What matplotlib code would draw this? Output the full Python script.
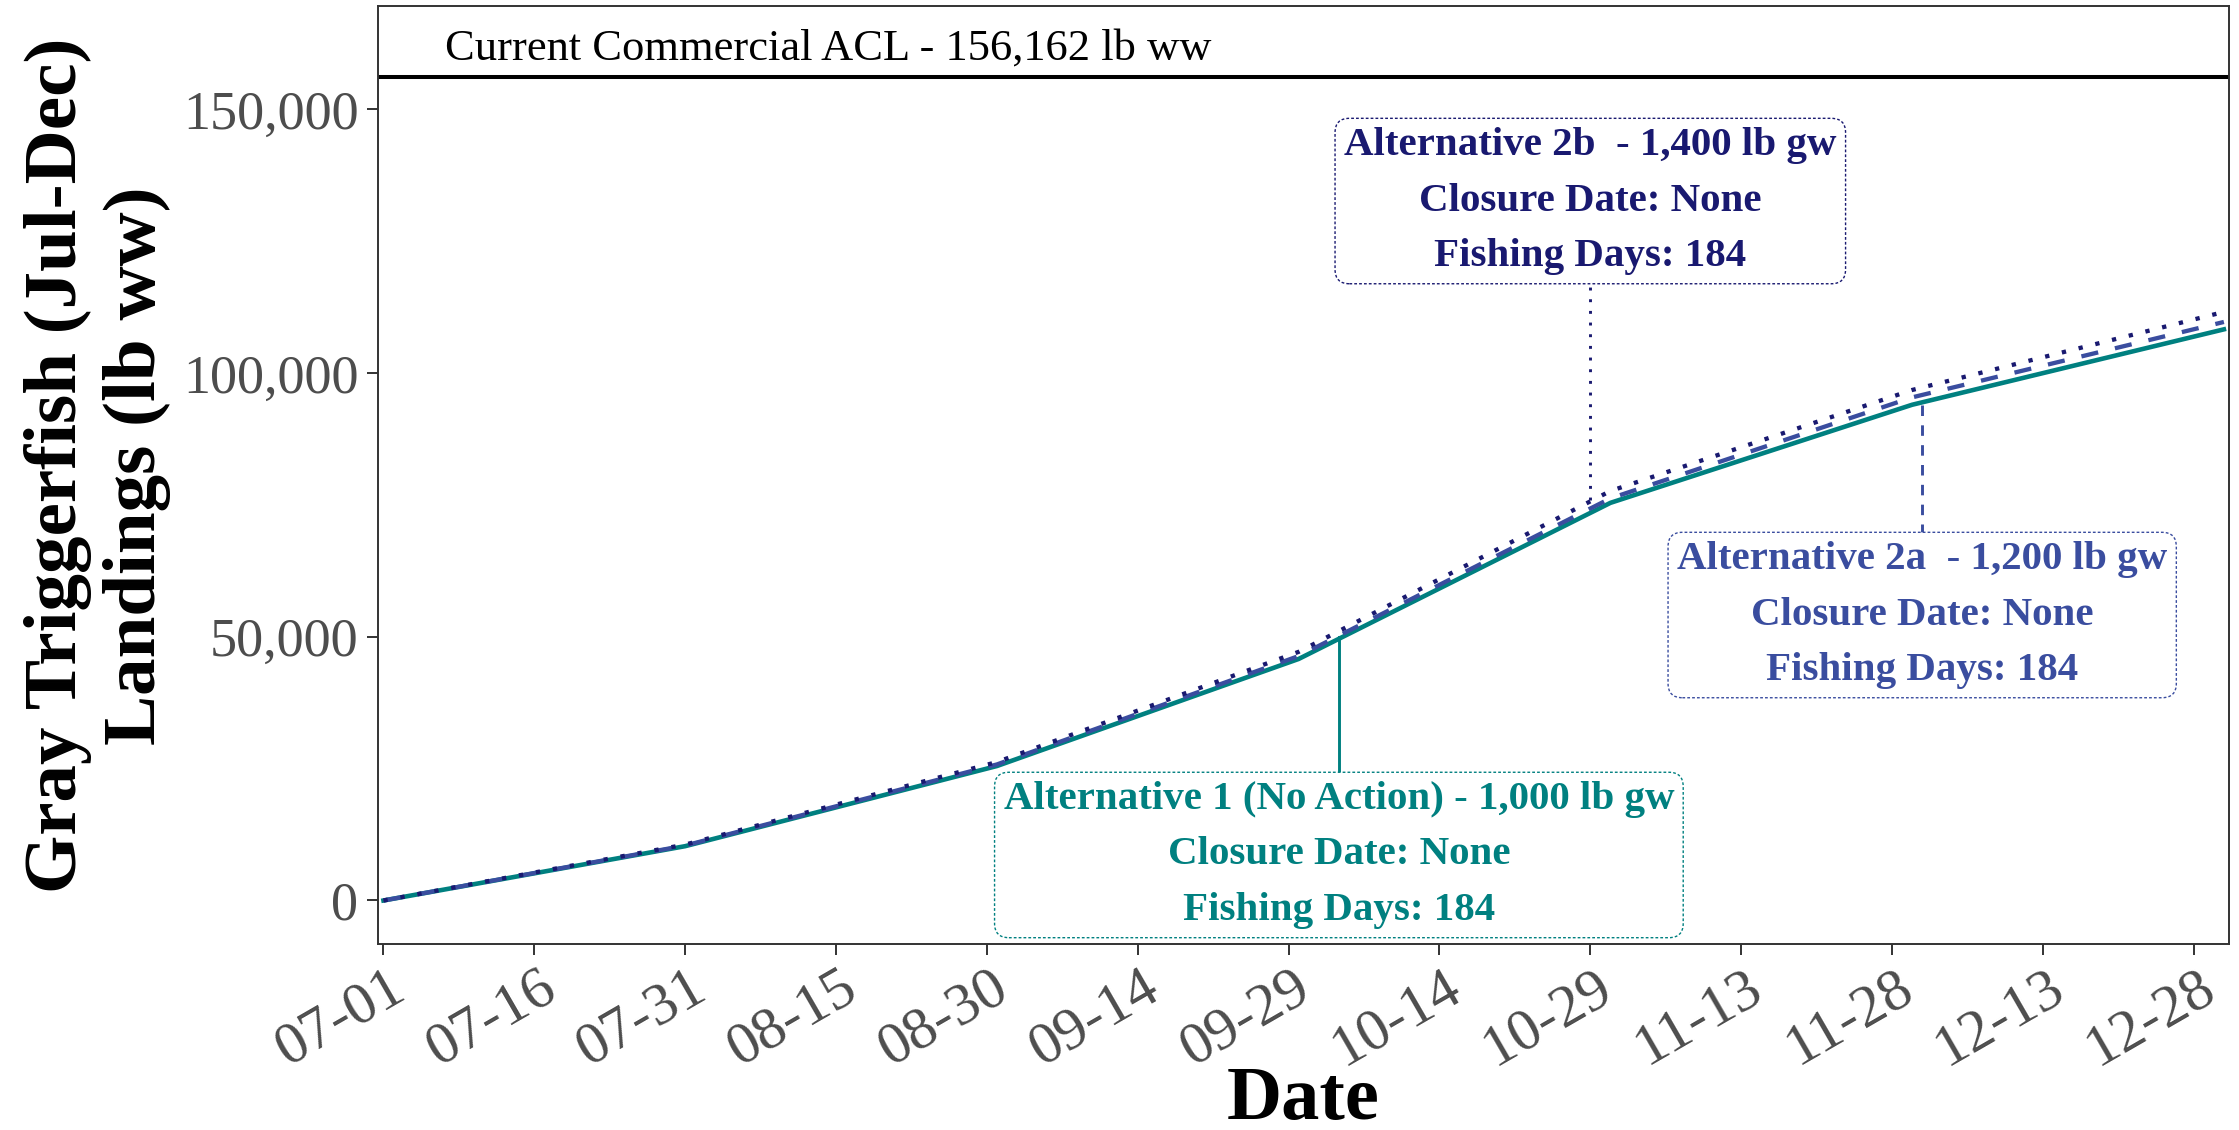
"""Gray triggerfish commercial landings projections (Jul-Dec) by trip limit alternative."""

import matplotlib

matplotlib.use("Agg")
import matplotlib.dates as mdates  # noqa: E402
import matplotlib.pyplot as plt  # noqa: E402
import matplotlib.transforms as mtransforms  # noqa: E402
import pandas as pd  # noqa: E402
from matplotlib.ticker import FuncFormatter  # noqa: E402

plt.rcParams["font.family"] = ["Liberation Serif", "DejaVu Serif"]

# cumulative landings (lb ww) at month ends
dates = pd.to_datetime(
    ["2023-07-01", "2023-07-31", "2023-08-31", "2023-09-30", "2023-10-31", "2023-11-30", "2023-12-31"]
)
alt1_landings = [0, 10300, 25500, 45800, 75400, 94000, 108300]
alt2a_landings = [0, 10420, 25800, 46350, 76250, 95400, 109700]
alt2b_landings = [0, 10600, 26250, 47150, 77650, 96800, 111600]

acl = 156162
acl_text = "Current Commercial ACL - 156,162 lb ww"

label_texts = [
    "Alternative 1 (No Action) - 1,000 lb gw\nClosure Date: None\nFishing Days: 184",
    "Alternative 2a  - 1,200 lb gw\nClosure Date: None\nFishing Days: 184",
    "Alternative 2b  - 1,400 lb gw\nClosure Date: None\nFishing Days: 184",
]
label_dates = pd.to_datetime(["2023-10-04", "2023-12-01", "2023-10-29"])
label_y = [8630, 54130, 132630]
point_y = [49900, 94000, 76000]

colors = ["#008080", "#3A4D9F", "#191970"]
line_styles = ["-", (0, (4, 4)), (0, (1, 3))]
seg_styles = ["-", (0, (3.6, 3.2)), (0, (1, 3))]

start = pd.Timestamp("2023-07-01")

fig = plt.figure(figsize=(22.39, 11.30), dpi=100)
ax = fig.add_axes([0.1688, 0.1646, 0.8267, 0.8305])

for vals, col, ls, lw in zip(
    [alt1_landings, alt2a_landings, alt2b_landings], colors, line_styles, [3.3, 3.1, 3.1]
):
    ax.plot(dates, vals, color=col, linestyle=ls, linewidth=lw, dash_capstyle="butt", zorder=3)

ax.axhline(acl, color="black", linewidth=2.9, zorder=2)
ax.text(start + pd.Timedelta(days=6.1), 159400, acl_text, fontsize=32, ha="left", va="baseline")

for txt, d, ly, py, col, ls in zip(label_texts, label_dates, label_y, point_y, colors, seg_styles):
    ax.plot([d, d], [py, ly], color=col, linestyle=ls, linewidth=2.1, zorder=4)
    ax.text(
        d, ly, txt, color=col, fontsize=29.5, fontweight="bold", ha="center", va="center",
        linespacing=1.65, zorder=5,
        bbox=dict(boxstyle="round,pad=0.22,rounding_size=0.35", fc="white", ec=col,
                  lw=1.0, ls=(0, (2, 1.5))),
    )

ax.set_xlim(start - pd.Timedelta(days=0.55), start + pd.Timedelta(days=183.5))
ax.set_ylim(-8250, 169700)

ax.set_xticks(pd.date_range(start, periods=13, freq="15D"))
ax.xaxis.set_major_formatter(mdates.DateFormatter("%m-%d"))
ax.set_yticks([0, 50000, 100000, 150000])
ax.yaxis.set_major_formatter(FuncFormatter(lambda v, p: f"{int(v):,}"))

ax.tick_params(axis="both", colors="#333333", labelcolor="#4D4D4D", labelsize=39,
               length=8, width=1.4, pad=6)
# ggplot-style angled labels: nudge right so they end just past the tick
shift = mtransforms.ScaledTranslation(0.31, 0.03, fig.dpi_scale_trans)
for lab in ax.get_xticklabels():
    lab.set_fontsize(43)
    lab.set_rotation(30)
    lab.set_ha("right")
    lab.set_va("top")
    lab.set_rotation_mode("default")
    lab.set_transform(lab.get_transform() + shift)

for sp in ax.spines.values():
    sp.set_color("#333333")
    sp.set_linewidth(1.4)

ax.set_xlabel("Date", fontsize=55, fontweight="bold", va="baseline")
ax.xaxis.set_label_coords(0.5, -0.186)
ax.set_ylabel("Gray Triggerfish (Jul-Dec)\nLandings (lb ww)", fontsize=54, fontweight="bold",
              linespacing=1.22, va="center", ha="center")
ax.yaxis.set_label_coords(-0.1515, 0.51)

fig.savefig("out.png", dpi=100)
